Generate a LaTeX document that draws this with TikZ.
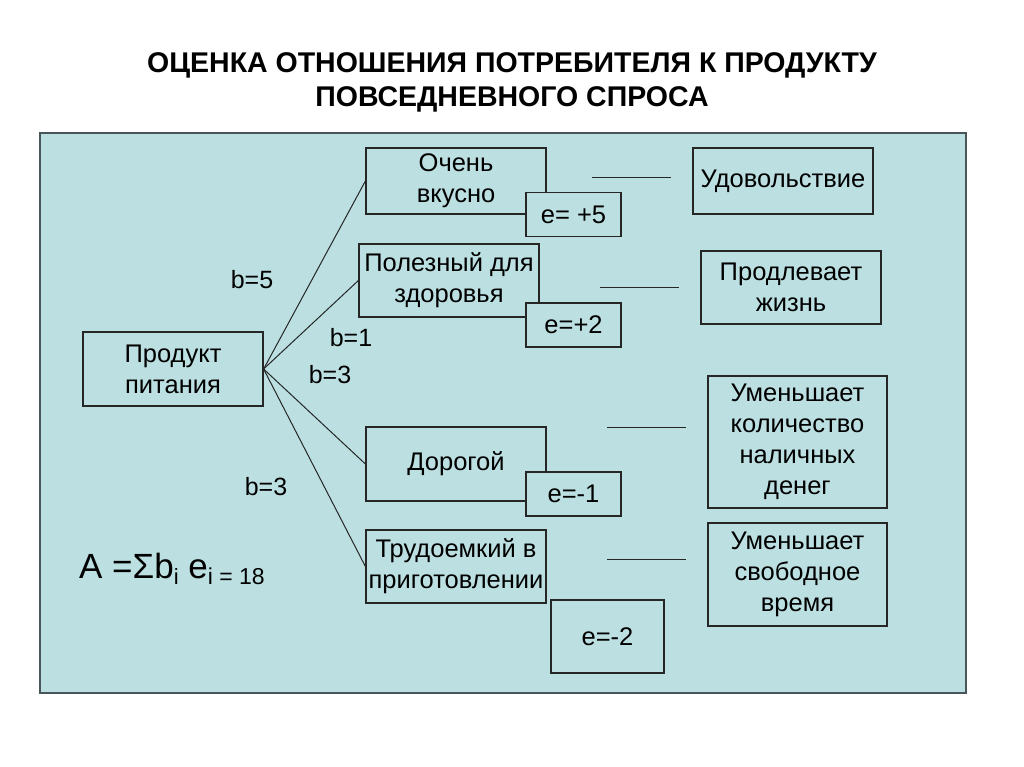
\documentclass[tikz,border=0pt]{standalone}
\usepackage{fontspec}
\setmainfont{Liberation Sans}
\usepackage{tikz}
\definecolor{panel}{RGB}{188,224,226}
\definecolor{frame}{RGB}{72,86,90}

\begin{document}
\begin{tikzpicture}[
  x=1pt, y=-1pt,
  box/.style={rectangle, draw=black!85, line width=1.2pt, fill=panel,
              align=center, inner sep=0pt, font=\fontsize{25.5}{31}\selectfont},
  ebox/.style={box, minimum width=95pt, minimum height=44pt},
  lbl/.style={font=\fontsize{25}{25}\selectfont, inner sep=0pt},
  link/.style={line width=1pt, color=black!85}
]
\useasboundingbox (0,0) rectangle (1024,767);
% ── title ─────────────
\node[font=\fontsize{28.5}{34}\selectfont\bfseries, align=center] (title) at (512,82)
  {ОЦЕНКА ОТНОШЕНИЯ ПОТРЕБИТЕЛЯ К ПРОДУКТУ\\ПОВСЕДНЕВНОГО СПРОСА};
\draw[fill=panel, draw=frame, line width=1.8pt] (40,133) rectangle (966,693);

% ── product and its features ─────────────
\node[box, minimum width=180pt, minimum height=74pt] (prod) at (173,369)
  {Продукт\\питания};
\node[box, minimum width=180pt, minimum height=66pt] (tasty) at (456,181)
  {Очень\\вкусно};
\node[box, minimum width=180pt, minimum height=73pt] (health) at (449,280.5)
  {Полезный для\\здоровья};
\node[box, minimum width=180pt, minimum height=74pt] (dear) at (456,464)
  {Дорогой};
\node[box, minimum width=180pt, minimum height=73pt] (labour) at (456,566.5)
  {Трудоемкий в\\приготовлении};
\draw[link] (prod.east) -- (tasty.west);
\draw[link] (prod.east) -- (health.west);
\draw[link] (prod.east) -- (dear.west);
\draw[link] (prod.east) -- (labour.west);

% ── weights ─────────────
\node[lbl] (b5) at (252,280) {b=5};
\node[lbl] (b1) at (351,338) {b=1};
\node[lbl] (b3a) at (330,375) {b=3};
\node[lbl] (b3b) at (266,487) {b=3};

% ── estimates ─────────────
\node[ebox] (etasty) at (573.5,214.5) {e= +5};
\node[ebox] (ehealth) at (573.5,325) {e=+2};
\node[ebox] (edear) at (573.5,494) {e=-1};
\node[ebox, minimum width=113pt, minimum height=73pt] (elabour) at (607.5,636.5) {e=-2};

% ── consequences ─────────────
\node[box, minimum width=180pt, minimum height=66pt] (joy) at (783,181)
  {Удовольствие};
\node[box, minimum width=180pt, minimum height=73pt] (life) at (791,287.5)
  {Продлевает\\жизнь};
\node[box, minimum width=179pt, minimum height=132pt] (cash) at (797.5,442)
  {Уменьшает\\количество\\наличных\\денег};
\node[box, minimum width=179pt, minimum height=103pt] (time) at (797.5,574.5)
  {Уменьшает\\свободное\\время};

% ── dashes ─────────────
\coordinate (d1a) at (592,178);  \coordinate (d1b) at (671,178);
\coordinate (d2a) at (600,287);  \coordinate (d2b) at (679,287);
\coordinate (d3a) at (607,427);  \coordinate (d3b) at (686,427);
\coordinate (d4a) at (607,559);  \coordinate (d4b) at (686,559);
\draw[link] (d1a) -- (d1b);
\draw[link] (d2a) -- (d2b);
\draw[link] (d3a) -- (d3b);
\draw[link] (d4a) -- (d4b);

% ── formula ─────────────
\node[anchor=base west, inner sep=0pt] (sum) at (79,578)
  {\fontsize{35}{35}\selectfont A =Σb\raisebox{-6pt}{\fontsize{22}{22}\selectfont i}
   e\raisebox{-6pt}{\fontsize{23}{23}\selectfont i = 18}};
\end{tikzpicture}
\end{document}
